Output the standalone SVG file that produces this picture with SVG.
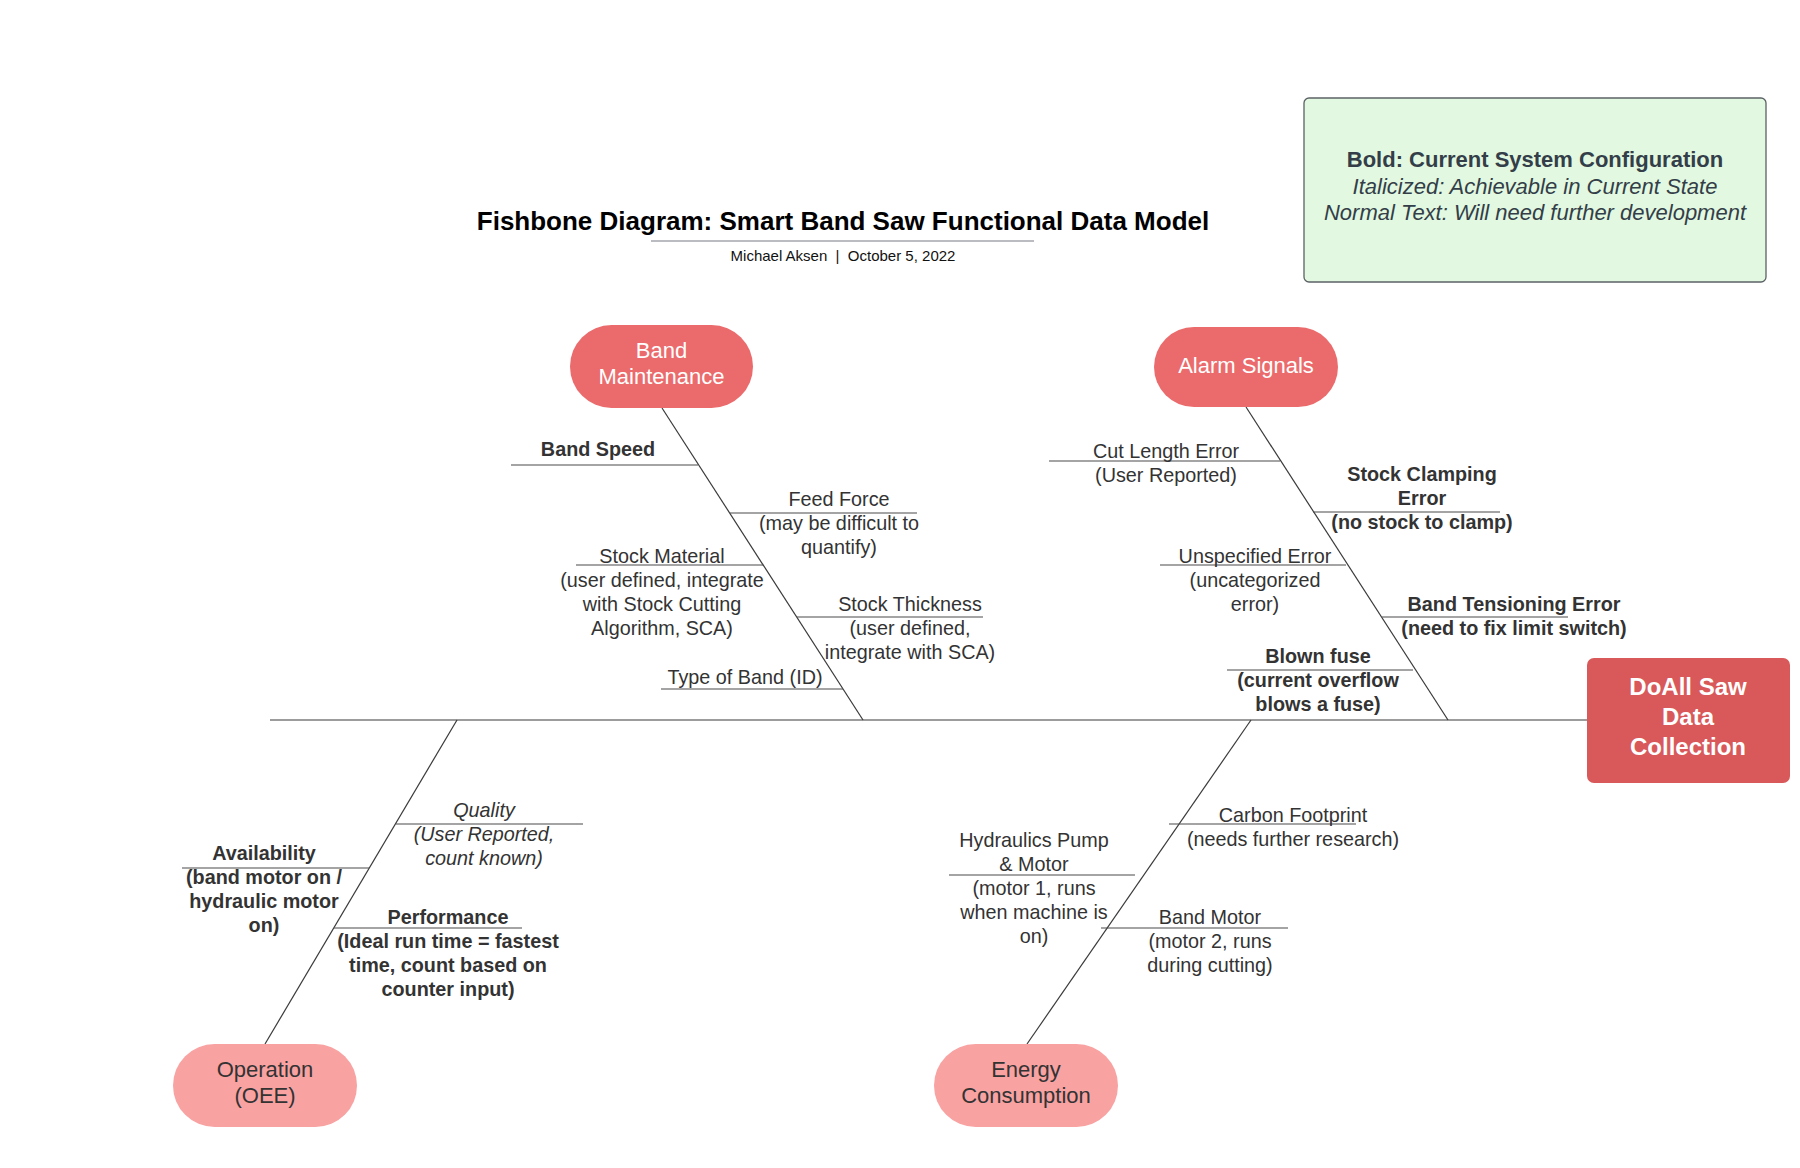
<svg xmlns="http://www.w3.org/2000/svg" width="1800" height="1168" viewBox="0 0 1800 1168">
<style>
text{font-family:"Liberation Sans",Arial,sans-serif;text-anchor:middle;}
.t{font-size:19.8px;fill:#333333;}
.b{font-weight:bold;}
.i{font-style:italic;}
.pill{font-size:22px;fill:#ffffff;}
.pilld{font-size:22px;fill:#333333;}
.bone{stroke:#3a3a3a;stroke-width:1.2;fill:none;}
.sub{stroke:#4a4a4a;stroke-width:1.2;fill:none;}
.p1{fill:#eb6b6c;}
.p2{fill:#f9a2a2;}
</style>
<rect width="1800" height="1168" fill="#ffffff"/>

<g id="title">
<text x="843" y="230" style="font-size:26px;font-weight:bold;fill:#000">Fishbone Diagram: Smart Band Saw Functional Data Model</text>
<line x1="651" y1="241" x2="1034" y2="241" stroke="#a3a6ad" stroke-width="1.5"/>
<text x="843" y="261" style="font-size:15px;fill:#111">Michael Aksen&#160; |&#160; October 5, 2022</text>
</g>

<g id="legend">
<rect x="1304" y="98" width="462" height="184" rx="5" fill="#e2f8e1" stroke="#5c6166" stroke-width="1.3"/>
<text x="1535" y="167" style="font-size:22px;font-weight:bold;fill:#333e48">Bold: Current System Configuration</text>
<text x="1535" y="194" style="font-size:22px;font-style:italic;fill:#333e48">Italicized: Achievable in Current State</text>
<text x="1535" y="220" style="font-size:22px;font-style:italic;fill:#333e48">Normal Text: Will need further development</text>
</g>

<g id="connectors">
<line class="bone" x1="270" y1="720" x2="1588" y2="720"/>
<line class="bone" x1="662" y1="408" x2="863" y2="720"/>
<line class="bone" x1="1246" y1="407" x2="1448" y2="720"/>
<line class="bone" x1="457" y1="720" x2="265" y2="1044"/>
<line class="bone" x1="1251" y1="720" x2="1027" y2="1044"/>
<line class="sub" x1="511" y1="465" x2="698" y2="465"/>
<line class="sub" x1="730" y1="513" x2="917" y2="513"/>
<line class="sub" x1="576" y1="565" x2="763" y2="565"/>
<line class="sub" x1="797" y1="617" x2="983" y2="617"/>
<line class="sub" x1="661" y1="689" x2="843" y2="689"/>
<line class="sub" x1="1049" y1="461" x2="1280" y2="461"/>
<line class="sub" x1="1313" y1="512" x2="1500" y2="512"/>
<line class="sub" x1="1160" y1="565" x2="1346" y2="565"/>
<line class="sub" x1="1382" y1="617" x2="1568" y2="617"/>
<line class="sub" x1="1227" y1="670" x2="1413" y2="670"/>
<line class="sub" x1="396" y1="824" x2="583" y2="824"/>
<line class="sub" x1="182" y1="868" x2="369" y2="868"/>
<line class="sub" x1="334" y1="928" x2="522" y2="928"/>
<line class="sub" x1="1169" y1="824" x2="1356" y2="824"/>
<line class="sub" x1="949" y1="875" x2="1135" y2="875"/>
<line class="sub" x1="1101" y1="928" x2="1288" y2="928"/>
</g>

<g id="head">
<rect x="1587" y="658" width="203" height="125" rx="7" fill="#d95859"/>
<text x="1688" y="695" style="font-size:24px;font-weight:bold;fill:#fff">DoAll Saw</text>
<text x="1688" y="725" style="font-size:24px;font-weight:bold;fill:#fff">Data</text>
<text x="1688" y="755" style="font-size:24px;font-weight:bold;fill:#fff">Collection</text>
</g>

<g id="band-maintenance">
<rect class="p1" x="570" y="325" width="183" height="83" rx="41.5"/>
<text class="pill" x="661.5" y="358">Band</text>
<text class="pill" x="661.5" y="384">Maintenance</text>
</g>
<g id="alarm-signals">
<rect class="p1" x="1154" y="327" width="184" height="80" rx="40"/>
<text class="pill" x="1246" y="373">Alarm Signals</text>
</g>
<g id="operation">
<rect class="p2" x="173" y="1044" width="184" height="83" rx="41.5"/>
<text class="pilld" x="265" y="1077">Operation</text>
<text class="pilld" x="265" y="1103">(OEE)</text>
</g>
<g id="energy">
<rect class="p2" x="934" y="1044" width="184" height="83" rx="41.5"/>
<text class="pilld" x="1026" y="1077">Energy</text>
<text class="pilld" x="1026" y="1103">Consumption</text>
</g>

<g id="band-speed"><text class="t b" x="598" y="456">Band Speed</text></g>
<g id="feed-force">
<text class="t" x="839" y="506">Feed Force</text>
<text class="t" x="839" y="530">(may be difficult to</text>
<text class="t" x="839" y="554">quantify)</text>
</g>
<g id="stock-material">
<text class="t" x="662" y="563">Stock Material</text>
<text class="t" x="662" y="587">(user defined, integrate</text>
<text class="t" x="662" y="611">with Stock Cutting</text>
<text class="t" x="662" y="635">Algorithm, SCA)</text>
</g>
<g id="stock-thickness">
<text class="t" x="910" y="611">Stock Thickness</text>
<text class="t" x="910" y="635">(user defined,</text>
<text class="t" x="910" y="659">integrate with SCA)</text>
</g>
<g id="type-of-band"><text class="t" x="745" y="684">Type of Band (ID)</text></g>

<g id="cut-length">
<text class="t" x="1166" y="458">Cut Length Error</text>
<text class="t" x="1166" y="482">(User Reported)</text>
</g>
<g id="stock-clamping">
<text class="t b" x="1422" y="481">Stock Clamping</text>
<text class="t b" x="1422" y="505">Error</text>
<text class="t b" x="1422" y="529">(no stock to clamp)</text>
</g>
<g id="unspecified">
<text class="t" x="1255" y="563">Unspecified Error</text>
<text class="t" x="1255" y="587">(uncategorized</text>
<text class="t" x="1255" y="611">error)</text>
</g>
<g id="band-tensioning">
<text class="t b" x="1514" y="611">Band Tensioning Error</text>
<text class="t b" x="1514" y="635">(need to fix limit switch)</text>
</g>
<g id="blown-fuse">
<text class="t b" x="1318" y="663">Blown fuse</text>
<text class="t b" x="1318" y="687">(current overflow</text>
<text class="t b" x="1318" y="711">blows a fuse)</text>
</g>

<g id="quality">
<text class="t i" x="484" y="817">Quality</text>
<text class="t i" x="484" y="841">(User Reported,</text>
<text class="t i" x="484" y="865">count known)</text>
</g>
<g id="availability">
<text class="t b" x="264" y="860">Availability</text>
<text class="t b" x="264" y="884">(band motor on /</text>
<text class="t b" x="264" y="908">hydraulic motor</text>
<text class="t b" x="264" y="932">on)</text>
</g>
<g id="performance">
<text class="t b" x="448" y="924">Performance</text>
<text class="t b" x="448" y="948">(Ideal run time = fastest</text>
<text class="t b" x="448" y="972">time, count based on</text>
<text class="t b" x="448" y="996">counter input)</text>
</g>

<g id="carbon-footprint">
<text class="t" x="1293" y="822">Carbon Footprint</text>
<text class="t" x="1293" y="846">(needs further research)</text>
</g>
<g id="hydraulics-pump">
<text class="t" x="1034" y="847">Hydraulics Pump</text>
<text class="t" x="1034" y="871">&amp; Motor</text>
<text class="t" x="1034" y="895">(motor 1, runs</text>
<text class="t" x="1034" y="919">when machine is</text>
<text class="t" x="1034" y="943">on)</text>
</g>
<g id="band-motor">
<text class="t" x="1210" y="924">Band Motor</text>
<text class="t" x="1210" y="948">(motor 2, runs</text>
<text class="t" x="1210" y="972">during cutting)</text>
</g>
</svg>
